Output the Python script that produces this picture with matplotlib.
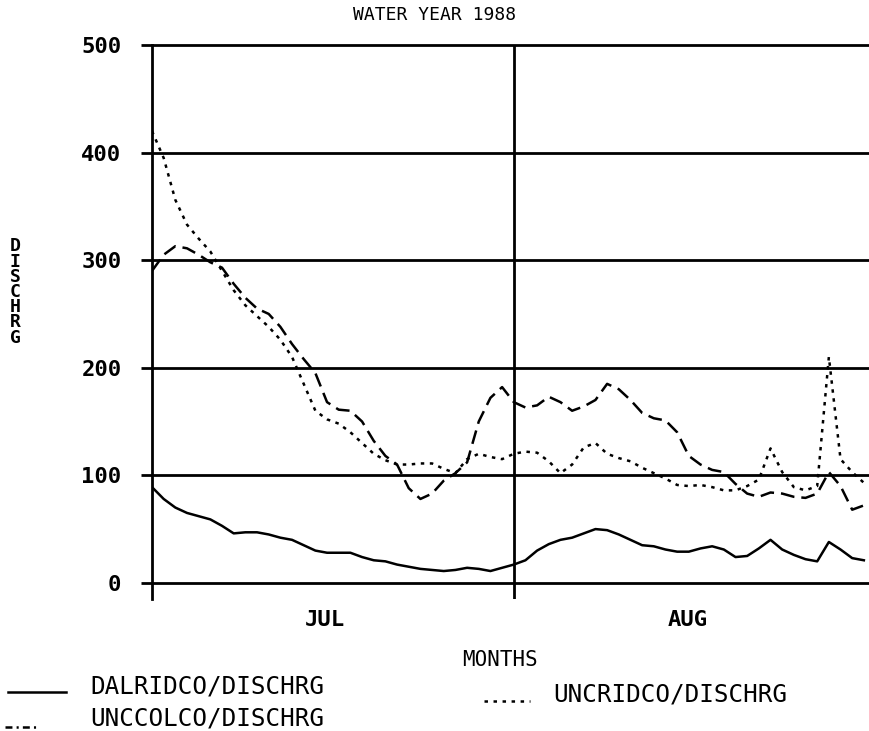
import matplotlib
matplotlib.use("Agg")
import matplotlib.pyplot as plt
from matplotlib.lines import Line2D

plt.rcParams['font.family'] = ['DejaVu Sans Mono', 'DejaVu Sans']
plt.rcParams['lines.scale_dashes'] = False

# day index 0 = Jul 1 ... 61 = Aug 31
dalridco = [89, 78, 70, 65, 62, 59, 53, 46, 47, 47, 45, 42, 40, 35, 30, 28, 28, 28, 24, 21,
            20, 17, 15, 13, 12, 11, 12, 14, 13, 11, 14, 17, 21, 30, 36, 40, 42, 46, 50, 49,
            45, 40, 35, 34, 31, 29, 29, 32, 34, 31, 24, 25, 32, 40, 31, 26, 22, 20, 38, 31,
            23, 21]
unccolco = [290, 305, 313, 311, 305, 298, 293, 278, 265, 255, 250, 238, 222, 208, 195, 168,
            161, 160, 150, 132, 118, 110, 88, 78, 83, 95, 102, 112, 150, 172, 182, 168, 163,
            165, 173, 168, 160, 164, 170, 185, 180, 170, 158, 153, 151, 140, 118, 110, 105,
            103, 92, 83, 80, 84, 83, 80, 79, 83, 103, 90, 68, 72]
uncridco = [420, 395, 356, 333, 320, 308, 290, 272, 258, 248, 238, 226, 210, 185, 160, 152,
            148, 140, 130, 120, 114, 110, 110, 111, 111, 106, 102, 115, 120, 117, 115, 120,
            122, 121, 113, 102, 110, 126, 130, 120, 116, 113, 107, 102, 97, 91, 90, 91, 89,
            86, 86, 90, 96, 125, 103, 89, 86, 90, 210, 115, 103, 93]
days = list(range(len(dalridco)))

yticks = [0, 100, 200, 300, 400, 500]
month_pos = [14.8, 45.9]
month_labels = ['JUL', 'AUG']
month_bounds = [31]

W, H = 870, 731
fig = plt.figure(figsize=(W / 100, H / 100), dpi=100)
ax_left, ax_right = 152, 152 + 62 * 11.67
ax_bottom, ax_top = 599, 45
ax = fig.add_axes([ax_left / W, 1 - ax_bottom / H, (ax_right - ax_left) / W, (ax_bottom - ax_top) / H])
ax.set_xlim(0, 62)
ax.set_ylim(-15, 500)

lw = 1.8
ax.hlines(yticks, -0.9, 62, colors='black', linewidth=2.0, clip_on=False)
ax.vlines(month_bounds, -15, 500, colors='black', linewidth=2.0)

ax.plot(days, dalridco, color='black', linewidth=lw, solid_joinstyle='round')
ax.plot(days, unccolco, color='black', linewidth=lw, dashes=(10, 5))
ax.plot(days, uncridco, color='black', linewidth=lw, dashes=(2.5, 4))

for s in ['top', 'right', 'bottom']:
    ax.spines[s].set_visible(False)
ax.spines['left'].set_linewidth(2.0)

ax.set_yticks(yticks)
ax.set_yticklabels([str(v) for v in yticks], fontsize=16, fontweight='bold')
ax.tick_params(axis='y', length=0, pad=22)
ax.set_xticks(month_pos)
ax.set_xticklabels(month_labels, fontsize=16, fontweight='bold')
ax.tick_params(axis='x', length=0, pad=8)

fig.text(0.5, 1 - 15 / H, 'WATER YEAR 1988', ha='center', va='center', fontsize=13)
fig.text(500 / W, 1 - 660 / H, 'MONTHS', ha='center', va='center', fontsize=15)
fig.text(15 / W, 1 - 292 / H, '\n'.join('DISCHRG'), ha='center', va='center', fontsize=13,
         fontweight='bold', linespacing=0.8)

# legend
fig.add_artist(Line2D([8 / W, 66 / W], [1 - 692 / H] * 2, color='black', linewidth=lw,
                      transform=fig.transFigure))
fig.text(90 / W, 1 - 686 / H, 'DALRIDCO/DISCHRG', ha='left', va='center', fontsize=17.5)
fig.add_artist(Line2D([484 / W, 530 / W], [1 - 701 / H] * 2, color='black', linewidth=lw,
                      dashes=(2.5, 4), transform=fig.transFigure))
fig.text(553 / W, 1 - 694 / H, 'UNCRIDCO/DISCHRG', ha='left', va='center', fontsize=17.5)
fig.add_artist(Line2D([5 / W, 38 / W], [1 - 727 / H] * 2, color='black', linewidth=lw,
                      dashes=(5, 3, 1.5, 3), transform=fig.transFigure))
fig.text(90 / W, 1 - 719 / H, 'UNCCOLCO/DISCHRG', ha='left', va='center', fontsize=17.5)

fig.savefig('out.png', dpi=100)
